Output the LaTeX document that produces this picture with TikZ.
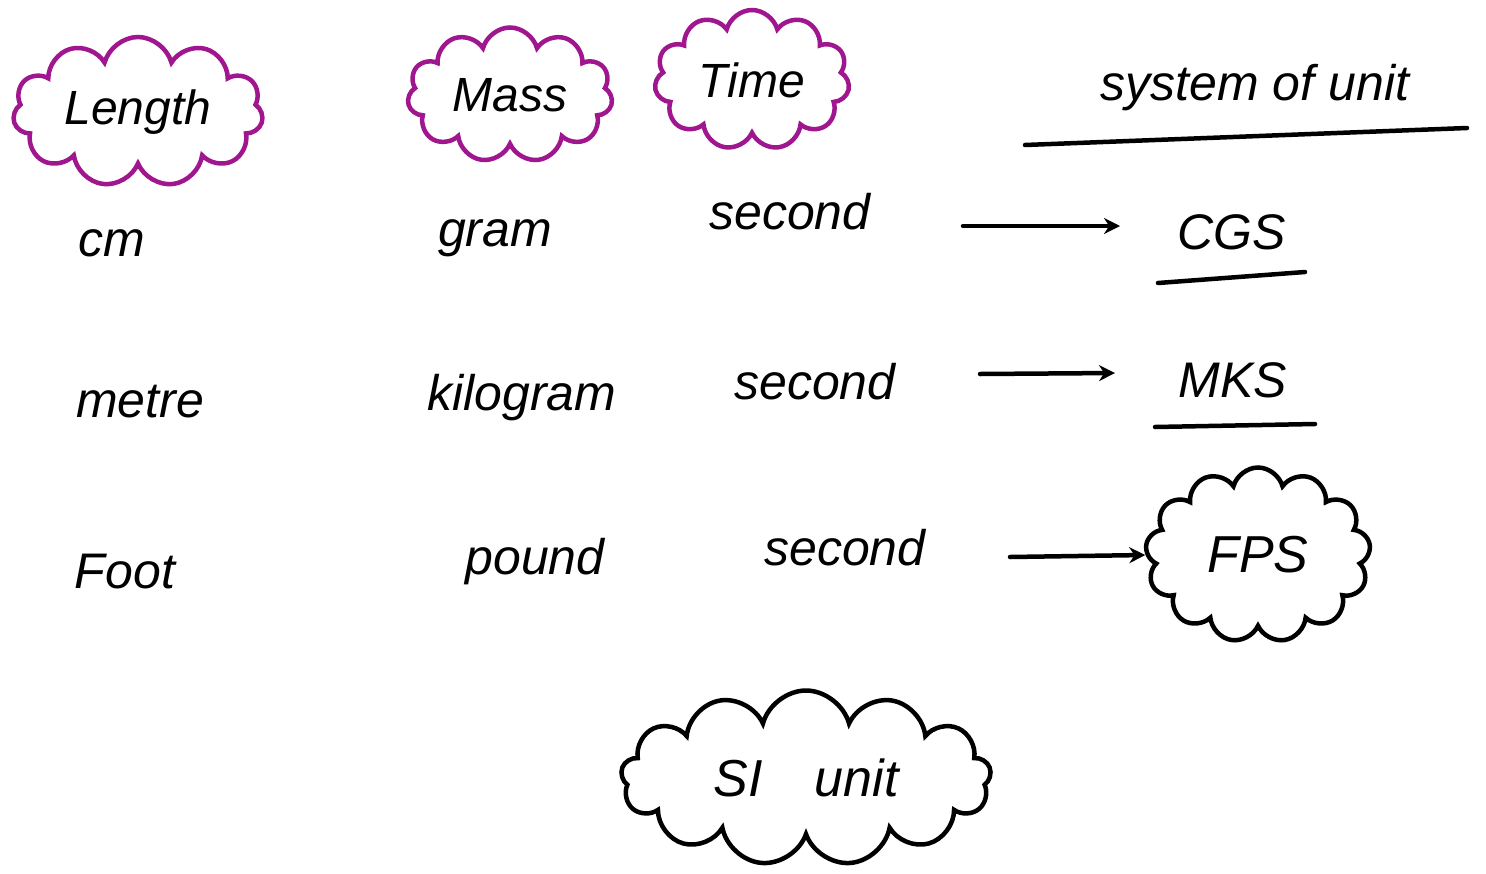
\documentclass[tikz,border=0pt]{standalone}
\usepackage{fontspec}
\setmainfont{Liberation Sans}
\usetikzlibrary{shapes.symbols,arrows.meta}
\definecolor{cloudpurple}{HTML}{A0168F}
\tikzset{
  hw/.style={font=\fontsize{50}{54}\selectfont\itshape, inner sep=0pt},
  pcloud/.style={cloud, cloud puffs=11, cloud ignores aspect, draw=cloudpurple, line width=4.5pt, inner sep=0pt, font=\fontsize{48}{52}\selectfont\itshape},
  bcloud/.style={cloud, cloud puffs=13, cloud ignores aspect, draw=black, line width=4.5pt, inner sep=0pt, font=\fontsize{52}{56}\selectfont\itshape},
  uline/.style={line width=4.5pt, line cap=round},
  arr/.style={line width=4.5pt, line cap=round, -{Stealth[length=16pt,width=16pt]}}
}
\begin{document}
\begin{tikzpicture}[x=1pt,y=-1pt]
\useasboundingbox[fill=white] (0,0) rectangle (1486,873);
% header clouds
\node[pcloud, minimum width=250pt, minimum height=150pt] (length) at (138,112) {Length};
\node[pcloud, minimum width=205pt, minimum height=135pt] (mass) at (510,95) {Mass};
\node[pcloud, minimum width=195pt, minimum height=140pt] (time) at (752,80) {Time};
\node[hw] (sys) at (1255,88) {system of unit};
\coordinate (sysA) at (1025,145);
\coordinate (sysB) at (1467,128);
\draw[uline] (sysA) -- (sysB);
% row 1
\node[hw] (cm) at (112,243) {cm};
\node[hw] (gram) at (495,238) {gram};
\node[hw] (sec1) at (790,212) {second};
\coordinate (a1s) at (963,226);
\coordinate (a1e) at (1120,226);
\node[hw] (cgs) at (1232,232) {CGS};
\draw[arr] (a1s) -- (a1e);
\coordinate (cgsA) at (1158,283);
\coordinate (cgsB) at (1305,272);
\draw[uline] (cgsA) -- (cgsB);
% row 2
\node[hw] (metre) at (140,402) {metre};
\node[hw] (kg) at (522,398) {kilogram};
\node[hw] (sec2) at (815,382) {second};
\coordinate (a2s) at (980,374);
\coordinate (a2e) at (1115,373);
\node[hw] (mks) at (1233,380) {MKS};
\draw[arr] (a2s) -- (a2e);
\coordinate (mksA) at (1155,427);
\coordinate (mksB) at (1315,424);
\draw[uline] (mksA) -- (mksB);
% row 3
\node[hw] (foot) at (125,572) {Foot};
\node[hw] (pound) at (535,562) {pound};
\node[hw] (sec3) at (845,548) {second};
\node[bcloud, minimum width=225pt, minimum height=175pt] (fps) at (1258,555) {FPS};
\coordinate (a3s) at (1010,557);
\draw[arr] (a3s) -- (fps.west);
% SI unit
\node[bcloud, minimum width=370pt, minimum height=175pt] (si) at (806,778) {SI\quad unit};
\end{tikzpicture}
\end{document}
